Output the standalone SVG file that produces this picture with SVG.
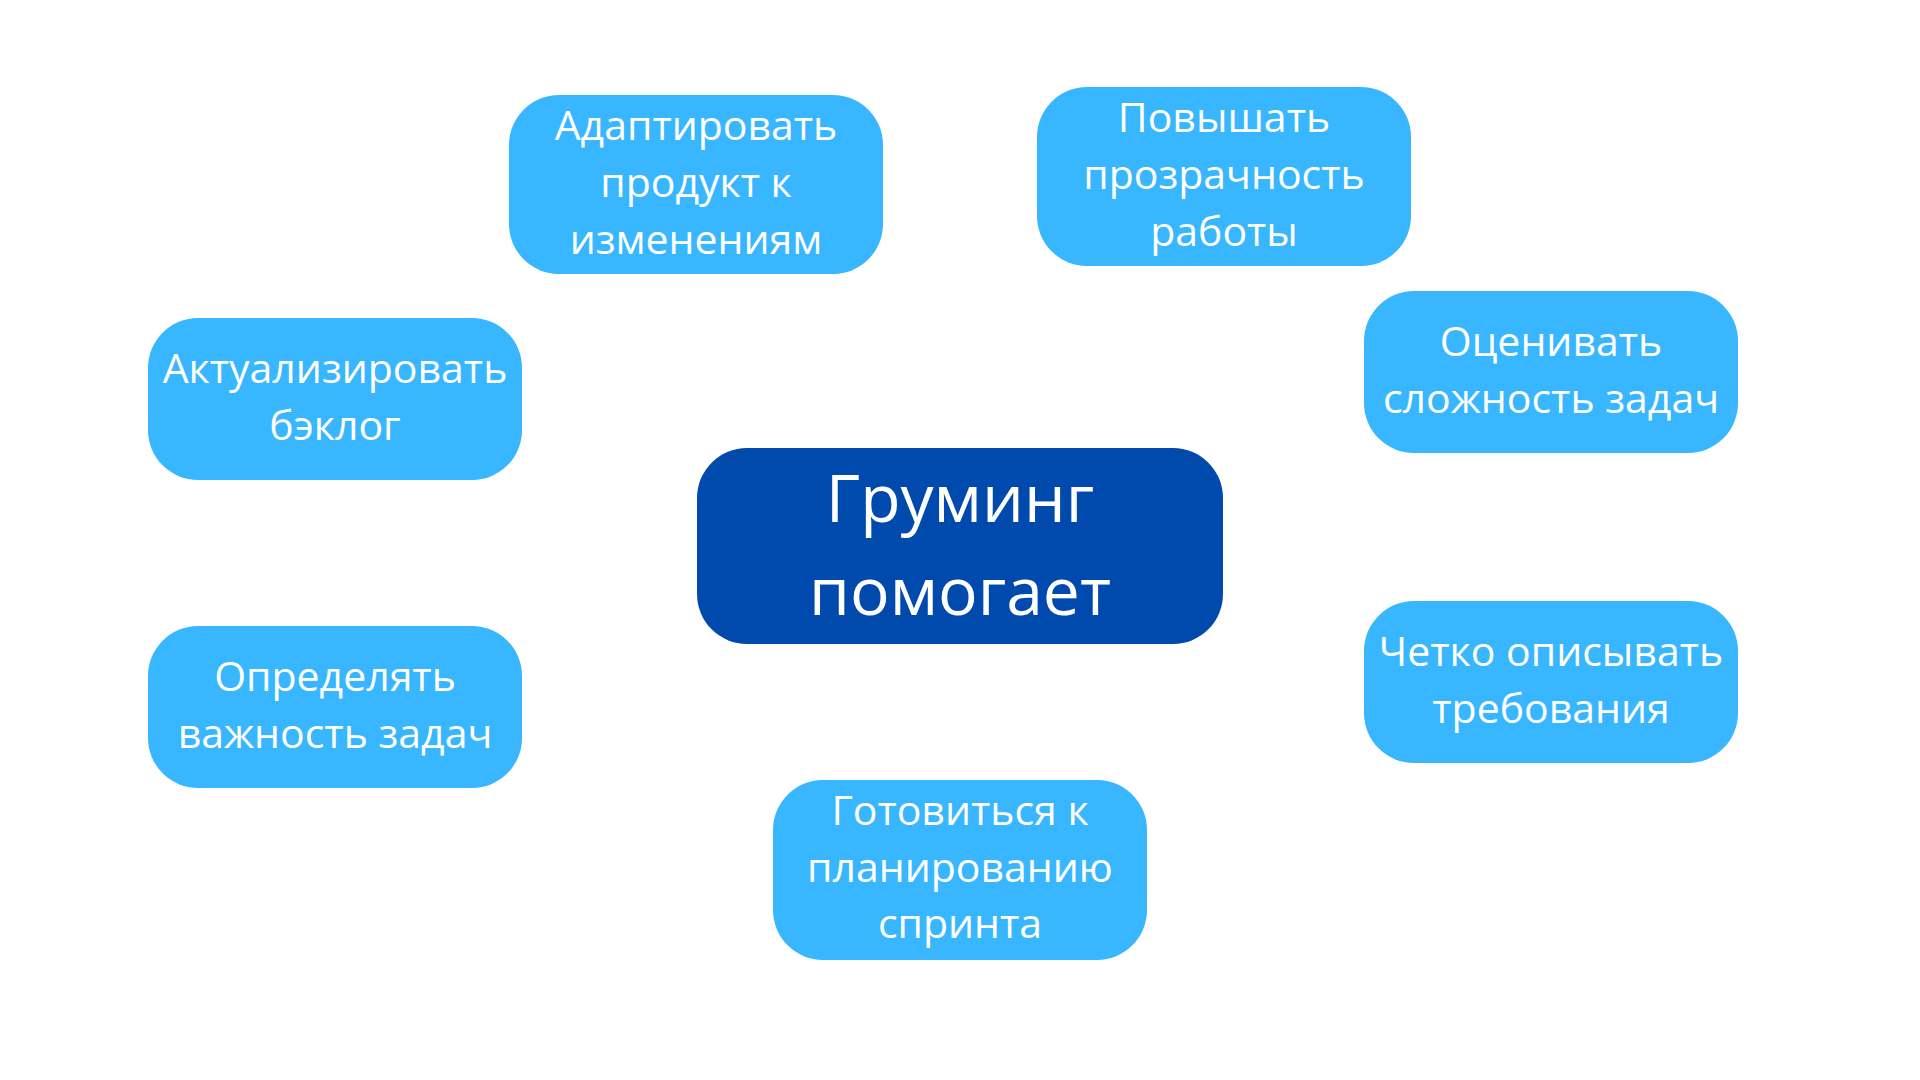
<svg xmlns="http://www.w3.org/2000/svg" width="1920" height="1080" viewBox="0 0 1920 1080">
<style>
.n{fill:#38B6FF}
.c{fill:#004AAD}
text{font-family:"Open Sans","Noto Sans","DejaVu Sans",sans-serif;fill:#FFFFFF;text-anchor:middle}
.t{font-size:41px}
.h{font-size:66px}
</style>
<rect width="1920" height="1080" fill="#FFFFFF"/>
<g id="connectors"></g>
<g id="n-adapt">
<rect class="n" x="509" y="95" width="374" height="179" rx="50"/>
<text class="t" x="696"><tspan x="696" y="140">Адаптировать</tspan><tspan x="696" y="197">продукт к</tspan><tspan x="696" y="254">изменениям</tspan></text>
</g>
<g id="n-transparency">
<rect class="n" x="1037" y="87" width="374" height="179" rx="50"/>
<text class="t"><tspan x="1224" y="132">Повышать</tspan><tspan x="1224" y="189">прозрачность</tspan><tspan x="1224" y="246">работы</tspan></text>
</g>
<g id="n-backlog">
<rect class="n" x="148" y="318" width="374" height="162" rx="50"/>
<text class="t"><tspan x="335" y="383">Актуализировать</tspan><tspan x="335" y="440">бэклог</tspan></text>
</g>
<g id="n-estimate">
<rect class="n" x="1364" y="291" width="374" height="162" rx="50"/>
<text class="t"><tspan x="1551" y="356">Оценивать</tspan><tspan x="1551" y="413">сложность задач</tspan></text>
</g>
<g id="n-center">
<rect class="c" x="697" y="448" width="526" height="196" rx="50"/>
<text class="h"><tspan x="960" y="522">Груминг</tspan><tspan x="960" y="615">помогает</tspan></text>
</g>
<g id="n-priority">
<rect class="n" x="148" y="626" width="374" height="162" rx="50"/>
<text class="t"><tspan x="335" y="691">Определять</tspan><tspan x="335" y="748">важность задач</tspan></text>
</g>
<g id="n-requirements">
<rect class="n" x="1364" y="601" width="374" height="162" rx="50"/>
<text class="t"><tspan x="1551" y="666">Четко описывать</tspan><tspan x="1551" y="723">требования</tspan></text>
</g>
<g id="n-sprint">
<rect class="n" x="773" y="780" width="374" height="180" rx="50"/>
<text class="t"><tspan x="960" y="825">Готовиться к</tspan><tspan x="960" y="882">планированию</tspan><tspan x="960" y="938">спринта</tspan></text>
</g>
</svg>
